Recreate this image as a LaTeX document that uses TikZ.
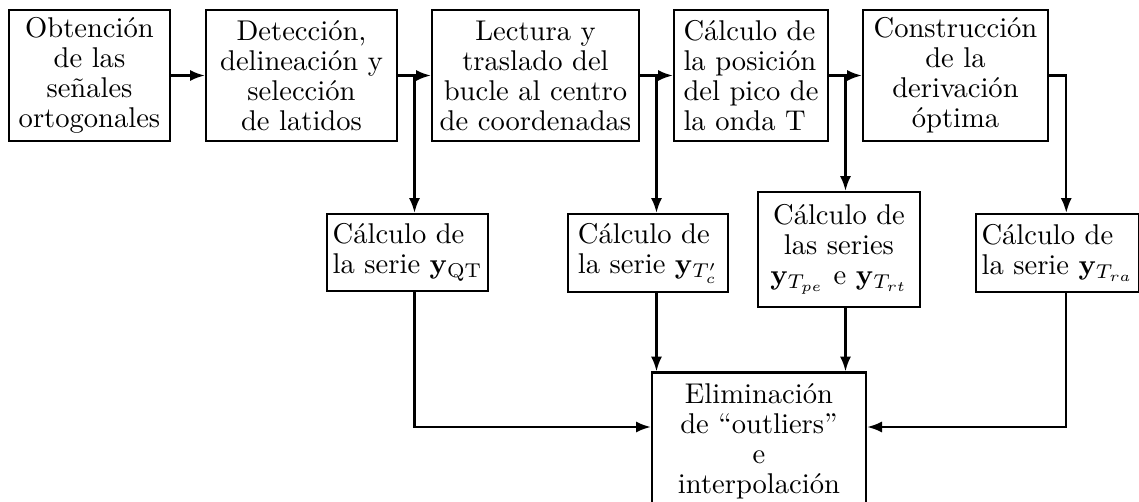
\documentclass[tikz,border=0pt]{standalone}
\usepackage{tikz}
\usetikzlibrary{arrows.meta, calc}

\begin{document}
\begin{tikzpicture}[x=0.35pt, y=-0.35pt,
  every node/.style={font=\fontsize{10}{10.5}\selectfont},
  box/.style={draw, thick, align=center, inner sep=2pt, minimum height=45.85pt},
  flow/.style={thick, -{Latex[length=5.2pt, width=3.9pt]}}]
\useasboundingbox (0,0) rectangle (1139,501);

% Top row
\node[box, minimum width=56.35pt] (obt) at (89.5,75.5) {Obtención\\de las\\señales\\ortogonales};
\node[box, minimum width=66.85pt] (det) at (301.5,75.5) {Detección,\\delineación y\\selección\\de latidos};
\node[box, minimum width=72.45pt] (lec) at (535.5,75.5) {Lectura y\\traslado del\\bucle al centro\\de coordenadas};
\node[box, align=left, minimum width=53.9pt] (pos) at (751,75.5) {Cálculo de\\la posición\\del pico de\\la onda T};
\node[box, minimum width=64.75pt] (con) at (955.5,75.5) {Construcción\\de la\\derivación\\óptima};

% Lower row
\node[box, align=left, minimum width=56.35pt, minimum height=26.95pt] (qt) at (407.5,252.5) {Cálculo de\\la serie $\mathbf{y}_{\mathrm{QT}}$};
\node[box, align=left, minimum width=56pt, minimum height=27.3pt] (tc) at (648,253) {Cálculo de\\la serie $\mathbf{y}_{T'_c}$};
\node[box, minimum width=56.7pt, minimum height=40.25pt] (pe) at (839,249.5) {Cálculo de\\las series\\$\mathbf{y}_{T_{pe}}$ e $\mathbf{y}_{T_{rt}}$};
\node[box, align=left, minimum width=56.35pt, minimum height=27.3pt] (tra) at (1057.5,253) {Cálculo de\\la serie $\mathbf{y}_{T_{ra}}$};

\node[box, minimum width=74.9pt, minimum height=47.95pt] (elim) at (759,441) {Eliminación\\de “outliers”\\e\\interpolación};

% Branch points
\coordinate (j1) at ($(det.east)!.5!(lec.west)$);
\coordinate (j2) at ($(lec.east)!.5!(pos.west)$);
\coordinate (j3) at ($(pos.east)!.5!(con.west)$);
\coordinate (j4) at ([xshift=6pt]con.east);

\draw[flow] (obt.east) -- (det.west);
\draw[flow] (det.east) -- (lec.west);
\draw[flow] (lec.east) -- (pos.west);
\draw[flow] (pos.east) -- (con.west);

\draw[flow] (j1) -- (j1 |- qt.north);
\draw[flow] (j2) -- (j2 |- tc.north);
\draw[flow] (j3) -- (j3 |- pe.north);
\draw[flow] (con.east) -- (j4) -- (j4 |- tra.north);

% Into the last block
\draw[flow] (j1 |- qt.south) |- ([yshift=4.9pt]elim.west);
\draw[flow] (j2 |- tc.south) -- (j2 |- elim.north);
\draw[flow] (j3 |- pe.south) -- (j3 |- elim.north);
\draw[flow] (j4 |- tra.south) |- ([yshift=4.9pt]elim.east);
\end{tikzpicture}
\end{document}
